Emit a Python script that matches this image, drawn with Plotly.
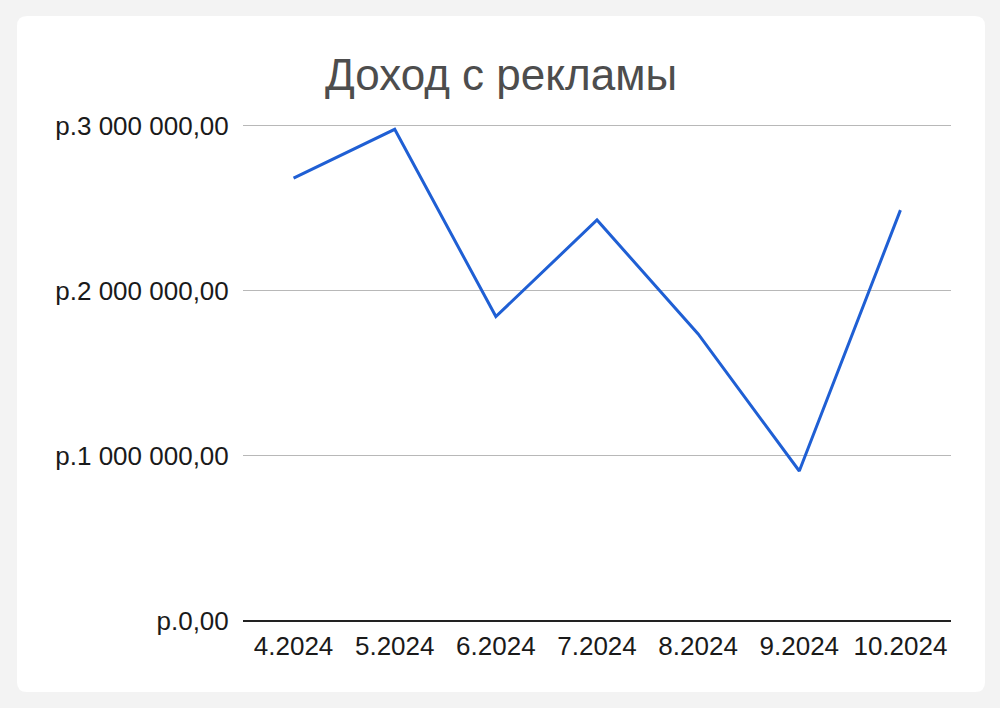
import plotly.graph_objects as go

months = ["4.2024", "5.2024", "6.2024", "7.2024", "8.2024", "9.2024", "10.2024"]
revenue = [2684000, 2980000, 1845000, 2430000, 1740000, 909000, 2490000]
y_ticks = [0, 1000000, 2000000, 3000000]
y_tick_labels = ["р.0,00", "р.1 000 000,00", "р.2 000 000,00", "р.3 000 000,00"]
title_text = "Доход с рекламы"

L, R, T, B = 243, 49, 124, 87
W, H = 1000, 708
pw, ph = W - L - R, H - T - B
y_top = 3012000

def px(x):
    return (x - L) / pw

def py(y):
    return (H - B - y) / ph

# rounded white panel
x0, x1, y0, y1 = 17, 985, 16, 692
r = 10
path = (
    f"M {px(x0 + r)},{py(y0)} L {px(x1 - r)},{py(y0)} "
    f"Q {px(x1)},{py(y0)} {px(x1)},{py(y0 + r)} "
    f"L {px(x1)},{py(y1 - r)} Q {px(x1)},{py(y1)} {px(x1 - r)},{py(y1)} "
    f"L {px(x0 + r)},{py(y1)} Q {px(x0)},{py(y1)} {px(x0)},{py(y1 - r)} "
    f"L {px(x0)},{py(y0 + r)} Q {px(x0)},{py(y0)} {px(x0 + r)},{py(y0)} Z"
)

fig = go.Figure()
fig.add_trace(go.Scatter(
    x=months, y=revenue, mode="lines",
    line=dict(color="#1f5fd4", width=3),
    hoverinfo="x+y",
))

fig.update_layout(
    width=W, height=H,
    margin=dict(l=L, r=R, t=T, b=B),
    paper_bgcolor="#f3f3f3",
    plot_bgcolor="rgba(0,0,0,0)",
    showlegend=False,
    font=dict(family="Liberation Sans, Arial, sans-serif", color="#222222"),
    title=dict(
        text=title_text, x=0.501, xanchor="center", xref="container",
        y=(H - 90) / H, yanchor="bottom", yref="container",
        font=dict(size=44, color="#4d4d4d", family="Liberation Sans, Arial, sans-serif"),
    ),
    shapes=[dict(
        type="path", path=path, xref="paper", yref="paper",
        fillcolor="#ffffff", line=dict(width=0), layer="below",
    )],
    xaxis=dict(
        type="category", range=[-0.5, len(months) - 0.5],
        showgrid=False, zeroline=False, showline=False,
        ticks="outside", ticklen=2, tickcolor="rgba(0,0,0,0)",
        tickfont=dict(size=26, color="#1a1a1a"),
    ),
    yaxis=dict(
        range=[0, y_top], tickvals=y_ticks, ticktext=y_tick_labels,
        showgrid=True, gridcolor="#b8b8b8", gridwidth=1,
        zeroline=True, zerolinecolor="#222222", zerolinewidth=2,
        showline=False,
        ticks="outside", ticklen=8, tickcolor="rgba(0,0,0,0)",
        tickfont=dict(size=26, color="#1a1a1a"),
    ),
)

fig.write_html(
    "out.html",
    config={"displayModeBar": False},
    post_script="document.body.style.margin='0';document.body.style.overflow='hidden';",
)
